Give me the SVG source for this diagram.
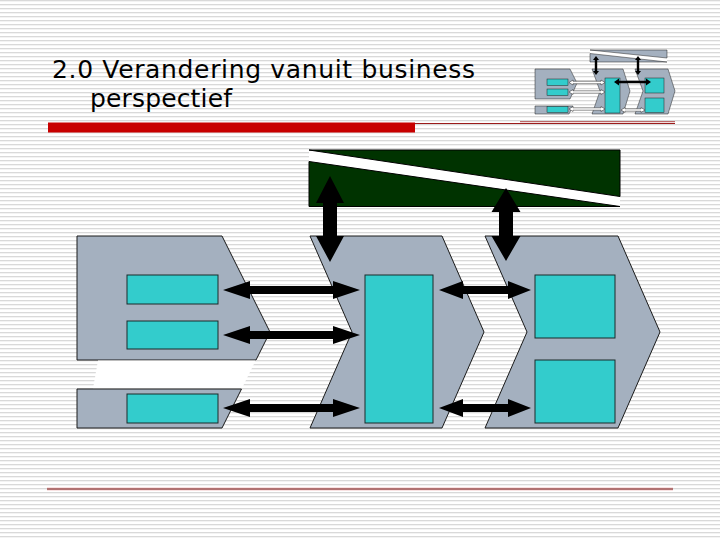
<svg xmlns="http://www.w3.org/2000/svg" width="720" height="540" viewBox="0 0 720 540">
<defs>
<pattern id="bg" width="4" height="4" patternUnits="userSpaceOnUse">
<rect width="4" height="4" fill="#ffffff"/>
<rect y="0" width="4" height="1.3" fill="#d9d9d9"/>
</pattern>
</defs>
<style>
.title{font-family:"DejaVu Sans",Verdana,sans-serif;font-size:25px;fill:#000}
.gray{fill:#a4b0bf;stroke:#1a1a1a;stroke-width:1}
.cyan{fill:#33cccc;stroke:#1a2a2a;stroke-width:1}
.green{fill:#003300;stroke:#000;stroke-width:1}
.arr{fill:#000;stroke:none}
.tgray{fill:#a4b0bf;stroke:#222;stroke-width:0.5}
.tcyan{fill:#33cccc;stroke:#222;stroke-width:0.5}
.thol{fill:#fff;stroke:#222;stroke-width:0.5}
</style>
<rect width="720" height="540" fill="url(#bg)"/>

<g id="title">
<text class="title" x="52" y="78" textLength="423" lengthAdjust="spacing">2.0 Verandering vanuit business</text>
<text class="title" x="90" y="107" textLength="142" lengthAdjust="spacing">perspectief</text>
</g>
<g id="rules">
<rect x="48" y="122.5" width="367" height="10" fill="#c80000"/>
<line x1="415" y1="123.5" x2="675" y2="123.5" stroke="#9b1b1b" stroke-width="1"/>
<line x1="47" y1="489" x2="673" y2="489" stroke="#f4c8c8" stroke-width="3"/>
<line x1="47" y1="489" x2="673" y2="489" stroke="#6e1c1c" stroke-width="1.2"/>
</g>

<g id="thumbnail">
<rect x="590" y="50" width="77" height="12" fill="#fff"/>
<polygon class="tgray" points="590,50 667,50 667,58"/>
<polygon class="tgray" points="590,53.5 667,62 590,62"/>
<polygon class="tgray" points="535,69 570,69 577,83 570,99 535,99"/>
<polygon class="tgray" points="535,106 573,106 569,114 535,114"/>
<polygon class="tgray" points="592,69 623,69 630,91 623,114 592,114 600,91"/>
<polygon class="tgray" points="635,69 668,69 675,91 668,114 635,114 643,91"/>
<rect class="tcyan" x="547" y="79" width="21" height="6.5"/>
<rect class="tcyan" x="547" y="89" width="21" height="6.5"/>
<rect class="tcyan" x="547" y="106.5" width="21" height="6"/>
<rect class="tcyan" x="605" y="78" width="15" height="35"/>
<rect class="tcyan" x="645" y="78" width="19" height="15"/>
<rect class="tcyan" x="645" y="98" width="19" height="14.5"/>
<polygon class="thol" points="569,82.5 573,80 573,81.3 601,81.3 601,80 605,82.5 601,85 601,83.7 573,83.7 573,85"/>
<polygon class="thol" points="569,92 573,89.5 573,90.8 601,90.8 601,89.5 605,92 601,94.5 601,93.2 573,93.2 573,94.5"/>
<polygon class="thol" points="569,109 573,106.5 573,107.8 601,107.8 601,106.5 605,109 601,111.5 601,110.2 573,110.2 573,111.5"/>
<polygon class="thol" points="621,110 625,107.5 625,108.8 641,108.8 641,107.5 645,110 641,112.5 641,111.2 625,111.2 625,112.5"/>
<polygon class="arr" points="614,82 619,78.5 619,80.8 646,80.8 646,78.5 651,82 646,85.5 646,83.2 619,83.2 619,85.5"/>
<polygon class="arr" points="596,56 599,60 597.2,60 597.2,71 599,71 596,75 593,71 594.8,71 594.8,60 593,60"/>
<polygon class="arr" points="638,56 641,60 639.2,60 639.2,71 641,71 638,75 635,71 636.8,71 636.8,60 635,60"/>
<line x1="520" y1="121.7" x2="675" y2="121.7" stroke="#9b1b1b" stroke-width="0.8"/>
</g>

<g id="banner">
<rect x="309" y="150" width="311" height="57" fill="#ffffff"/>
<polygon class="green" points="309,150 620,150 620,196.5"/>
<polygon class="green" points="309,161.5 620,206.5 309,206.5"/>
</g>

<g id="stage1">
<polygon class="gray" points="77,236 222,236 270,332 256,360 77,360"/>
<polygon points="98,360.5 255.7,360.5 241.8,388.5 93,388.5" fill="#ffffff"/>
<polygon class="gray" points="77,389 241.5,389 222,428 77,428"/>
<rect class="cyan" x="127" y="275" width="91" height="29"/>
<rect class="cyan" x="127" y="321" width="91" height="28"/>
<rect class="cyan" x="127" y="394" width="91" height="29"/>
</g>

<g id="stage2">
<polygon class="gray" points="310,236 442,236 484,332 442,428 310,428 352,332"/>
<rect class="cyan" x="365" y="275" width="68" height="148"/>
</g>

<g id="stage3">
<polygon class="gray" points="485,236 618,236 660,332 618,428 485,428 527,332"/>
<rect class="cyan" x="535" y="275" width="80" height="63"/>
<rect class="cyan" x="535" y="360" width="80" height="63"/>
</g>

<g id="connectors">
<polygon class="arr" points="223,290 250,281 250,286 333,286 333,281 360,290 333,299 333,294 250,294 250,299"/>
<polygon class="arr" points="223,335 250,326 250,331 333,331 333,326 360,335 333,344 333,339 250,339 250,344"/>
<polygon class="arr" points="223,408 250,399 250,404 333,404 333,399 360,408 333,417 333,412 250,412 250,417"/>
<polygon class="arr" points="439,290 463,281 463,286 508,286 508,281 531,290 508,299 508,294 463,294 463,299"/>
<polygon class="arr" points="439,408 463,399 463,404 508,404 508,399 531,408 508,417 508,412 463,412 463,417"/>
<polygon class="arr" points="330,176 344,203 337,203 337,236 344,236 330,262 316,236 323,236 323,203 316,203"/>
<polygon class="arr" points="506,188 520.5,212 513,212 513,236 520.5,236 506,261 491.5,236 499,236 499,212 491.5,212"/>
</g>
</svg>
